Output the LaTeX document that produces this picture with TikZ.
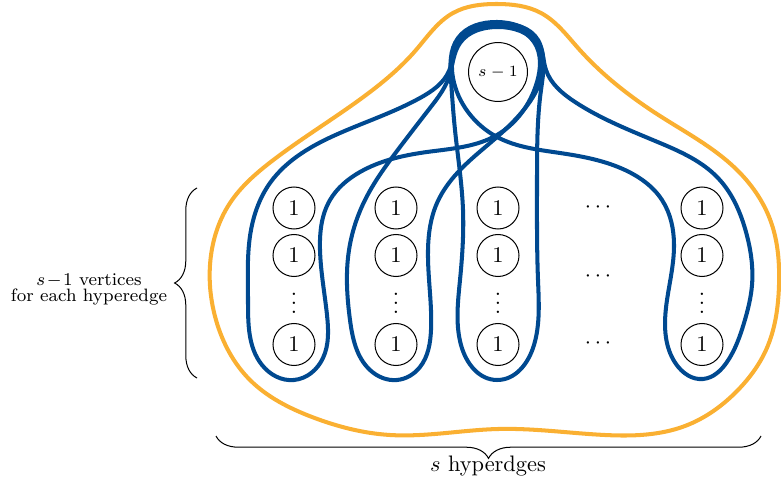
\documentclass[tikz,border=0pt]{standalone}
\usetikzlibrary{decorations.pathreplacing,hobby}
\definecolor{hblue}{RGB}{0,73,144}
\definecolor{horange}{RGB}{250,176,50}
\newcommand\colvdots{\vbox{\baselineskip4pt\lineskiplimit0pt\hbox{.}\hbox{.}\hbox{.}}}
\begin{document}
\begin{tikzpicture}[x=0.4464pt,y=-0.4464pt,
  vtx/.style={circle,draw,line width=0.45pt,minimum size=18.75pt,inner sep=0pt},
  topvtx/.style={circle,draw,line width=0.45pt,minimum size=26.3pt,inner sep=0pt,font=\scriptsize},
  hedge/.style={draw=hblue,line width=1.8pt,use Hobby shortcut,closed=true},
  outerloop/.style={draw=horange,line width=1.8pt,use Hobby shortcut,closed=true},
  bracestyle/.style={draw,line width=0.45pt,decorate,decoration={brace,amplitude=10pt}},
]
\useasboundingbox (0,0) rectangle (781,487);

% outer (orange) hyperedge
\draw[outerloop] (497,4) .. (541,13) .. (578,48) .. (660,116) .. (735,168)
  .. (771,222) .. (779,285) .. (766,350) .. (738,390) .. (685,426) .. (605,435)
  .. (498,429) .. (390,435) .. (312,417) .. (250,380) .. (216,320) .. (210,265)
  .. (230,203) .. (272,161) .. (370,92) .. (416,50) .. (453,13);

% column 1 hyperedge
\draw[hedge] (495,25) .. (534,42) .. (537,82) .. (520,115) .. (497,135)
  .. (427,152) .. (360,172) .. (330,200) .. (320,250) .. (327,315) .. (323,358)
  .. (294,380) .. (262,365) .. (248,300) .. (251,230) .. (270,183) .. (340,133)
  .. (420,98) .. (449,71) .. (459,40);

% column 2 hyperedge
\draw[hedge] (498,27) .. (537,44) .. (540,82) .. (522,112) .. (497,137)
  .. (462,168) .. (437,203) .. (428,250) .. (431,330) .. (420,367) .. (397,380)
  .. (370,370) .. (350,320) .. (349,250) .. (365,200) .. (400,147) .. (430,108)
  .. (449,77) .. (460,43);

% column 3 hyperedge
\draw[hedge] (497,22) .. (537,40) .. (541,90) .. (537,180) .. (538,280)
  .. (534,345) .. (497,380) .. (461,345) .. (460,280) .. (463,210) .. (455,130)
  .. (451,80) .. (458,38);

% last column hyperedge
\draw[hedge] (499,24) .. (538,40) .. (546,70) .. (575,102) .. (660,143)
  .. (718,178) .. (746,232) .. (752,285) .. (744,323) .. (727,362) .. (703,379)
  .. (676,364) .. (667,300) .. (674,245) .. (662,200) .. (625,170) .. (560,153)
  .. (497,137) .. (468,112) .. (453,78) .. (458,44);

% vertices
\node[topvtx] (top) at (498,72) {$s-1$};
\foreach \c/\x in {1/294,2/396,3/498,5/702}{
  \node[vtx] (v\c a) at (\x,208) {1};
  \node[vtx] (v\c b) at (\x,255.5) {1};
  \node[inner sep=0pt] (v\c d) at (\x,303.5) {\colvdots};
  \node[vtx] (v\c c) at (\x,344.5) {1};
}
\node (h1) at (598,208) {$\cdots$};
\node (h2) at (598,277) {$\cdots$};
\node (h3) at (598,344) {$\cdots$};

% braces
\coordinate (lbB) at (197,378);
\coordinate (lbT) at (197,188);
\draw[bracestyle] (lbB) -- (lbT);
\node[font=\footnotesize, align=center] (ltext) at (89,289.5)
  {$s\mkern1.5mu{-}\mkern1.5mu1$ vertices\\[-2.5pt]for each hyperedge};

\coordinate (bbR) at (761,436);
\coordinate (bbL) at (216,436);
\draw[bracestyle] (bbR) -- (bbL);
\node (btext) at (488,466.5) {$s$ hyperdges};
\end{tikzpicture}
\end{document}
